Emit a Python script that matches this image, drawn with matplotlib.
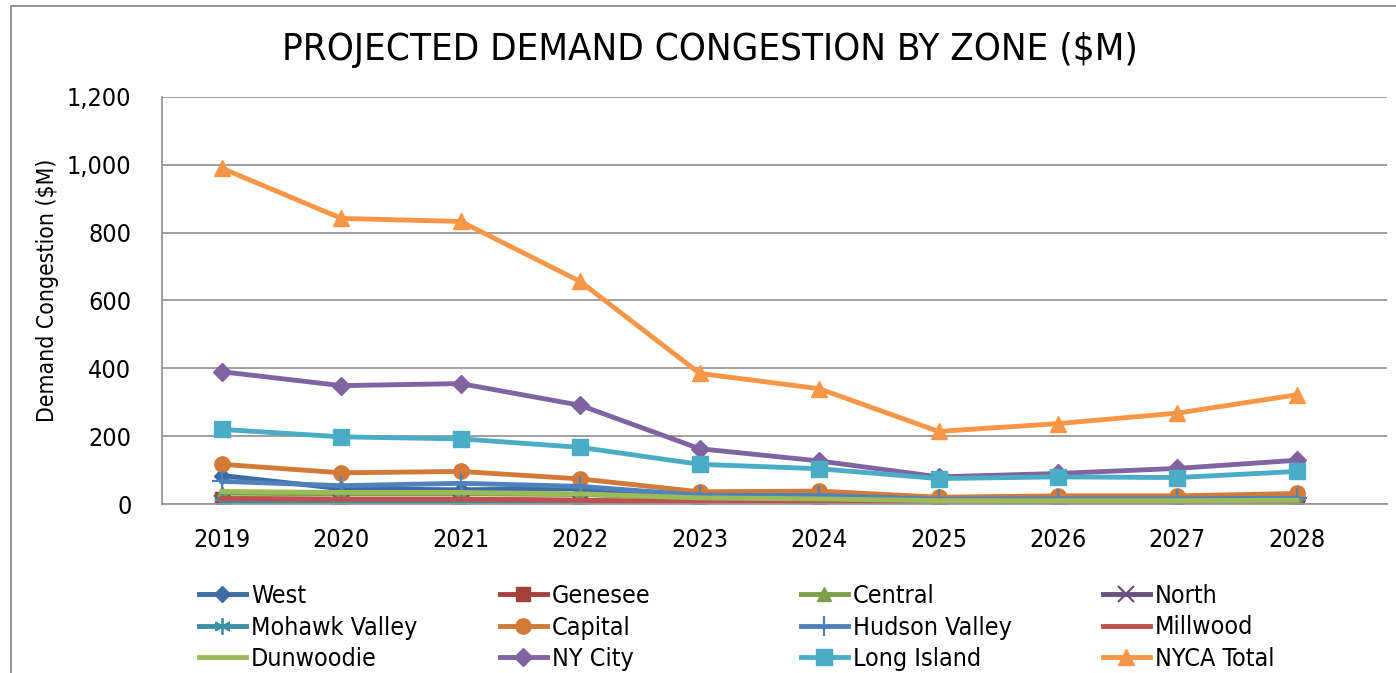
import matplotlib
matplotlib.use('Agg')
import matplotlib.pyplot as plt
from matplotlib.patches import Rectangle

plt.rcParams['font.family'] = ['DejaVu Sans']
plt.rcParams['font.stretch'] = 'condensed'

years = ['2019', '2020', '2021', '2022', '2023', '2024', '2025', '2026', '2027', '2028']

west = [84, 45, 42, 45, 18, 16, 12, 12, 12, 13]
genesee = [16, 14, 14, 11, 5, 4, 3, 3, 3, 3]
central = [32, 30, 30, 28, 16, 13, 9, 9, 9, 10]
north = [2, 2, 2, 2, 1, 1, 1, 1, 1, 1]
mohawk = [5, 5, 5, 4, 2, 2, 2, 2, 2, 2]
capital = [117, 92, 96, 74, 36, 38, 20, 24, 24, 31]
hudson = [67, 54, 61, 52, 26, 25, 14, 15, 15, 17]
millwood = [16, 14, 14, 11, 5, 4, 3, 3, 3, 3]
dunwoodie = [37, 34, 34, 30, 18, 15, 10, 10, 10, 11]
nycity = [390, 349, 355, 291, 163, 127, 80, 90, 105, 129]
longisland = [220, 198, 192, 167, 117, 104, 75, 80, 78, 96]
nyca = [990, 842, 833, 656, 385, 340, 214, 237, 268, 322]

series = [
    ('West', west, '#3D6BA3', 'D', 8),
    ('Genesee', genesee, '#A3403C', 's', 10),
    ('Central', central, '#7F9E47', '^', 10),
    ('North', north, '#68517F', 'x', 12),
    ('Mohawk Valley', mohawk, '#3A8EA5', '*', 0),
    ('Capital', capital, '#D27A38', 'o', 11),
    ('Hudson Valley', hudson, '#4F81BD', '+', 14),
    ('Millwood', millwood, '#C0504D', None, 0),
    ('Dunwoodie', dunwoodie, '#9BBB59', None, 0),
    ('NY City', nycity, '#8064A2', 'D', 9),
    ('Long Island', longisland, '#4BACC6', 's', 12),
    ('NYCA Total', nyca, '#F79646', '^', 12),
]

fig = plt.figure(figsize=(13.96, 6.73), dpi=100)
ax = fig.add_axes([0.116, 0.2511, 0.8775, 0.6048])

x = list(range(len(years)))
handles = []
for name, vals, col, mk, ms in series:
    if mk == '*':
        h, = ax.plot(x, vals, color=col, lw=3.5, marker=(6, 2, 0), markersize=12,
                     markeredgewidth=1.3, label=name)
    elif mk in ('x', '+'):
        h, = ax.plot(x, vals, color=col, lw=3.5, marker=mk, markersize=ms,
                     markeredgewidth=1.6, label=name)
    elif mk is None:
        h, = ax.plot(x, vals, color=col, lw=3.5, label=name)
    else:
        h, = ax.plot(x, vals, color=col, lw=3.5, marker=mk, markersize=ms,
                     markeredgecolor=col, label=name)
    handles.append(h)

ax.set_xlim(-0.502, 9.754)
ax.set_ylim(0, 1200)
ax.set_yticks(range(0, 1201, 200))
ax.set_yticklabels(['0', '200', '400', '600', '800', '1,000', '1,200'])
ax.set_xticks(x)
ax.set_xticklabels(years)
ax.tick_params(axis='both', labelsize=18, length=0)
ax.tick_params(axis='x', pad=17)
ax.tick_params(axis='y', pad=22)
ax.grid(axis='y', color='#979797', lw=1.3)
ax.set_axisbelow(True)
for s in ['top', 'right']:
    ax.spines[s].set_visible(False)
for s in ['left', 'bottom']:
    ax.spines[s].set_color('#979797')
    ax.spines[s].set_linewidth(1.3)

fig.text(48 / 1396, 1 - 290 / 673, 'Demand Congestion ($M)', fontsize=16.5,
         rotation=90, ha='center', va='center')
fig.text(710 / 1396, 1 - 50 / 673, 'PROJECTED DEMAND CONGESTION BY ZONE ($M)', fontsize=27.5,
         ha='center', va='center')

col_x = [197, 498, 799, 1101]
for c in range(4):
    hs = handles[c::4]
    fig.legend(handles=hs, labels=[h.get_label() for h in hs],
               loc='upper left', bbox_to_anchor=(col_x[c] / 1396 - 0.006, 1 - 574 / 673),
               frameon=False, fontsize=18, handlelength=1.9, handletextpad=0.2,
               labelspacing=0.3, borderaxespad=0)

fig.patches.append(Rectangle((11 / 1396, -0.1), 2, 1.1 - 6 / 673, transform=fig.transFigure,
                             fill=False, edgecolor='#8c8c8c', lw=1.3))

fig.savefig('out.png', dpi=100)
